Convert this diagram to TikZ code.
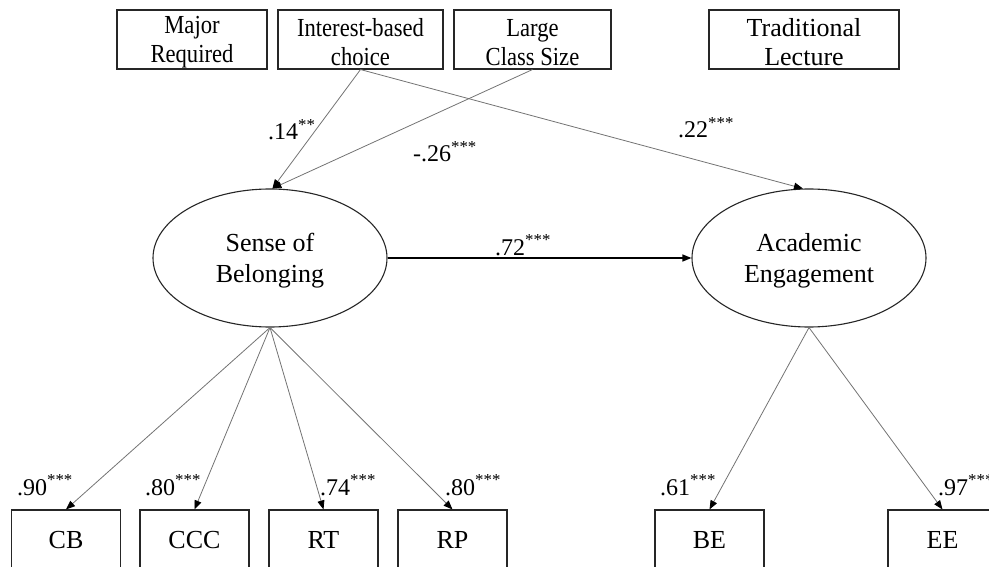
\documentclass[tikz,border=0pt]{standalone}
\usepackage{fontspec}
\usepackage{graphicx}
\setmainfont{Liberation Serif}
\usetikzlibrary{arrows.meta,shapes.geometric}
\newcommand{\cond}[1]{\scalebox{0.87}[1]{#1}}
\begin{document}
\begin{tikzpicture}[x=1pt,y=-1pt,
  tip/.style={-{Triangle[length=9pt,width=7pt,color=black,fill=black]}},
  intext/.style={align=center,inner sep=0pt,yshift=-3pt,font=\fontsize{26}{29}\selectfont},
  latext/.style={align=center,inner sep=0pt,yshift=-3pt,font=\fontsize{26}{31}\selectfont},
  box/.style={draw=black!85,line width=1.1pt,rectangle,inner sep=0pt,align=center,
    font=\fontsize{26}{29}\selectfont},
  topbox/.style={box,minimum height=59pt},
  botbox/.style={box,minimum height=60pt,minimum width=109pt},
  latent/.style={draw=black!85,line width=1.1pt,ellipse,inner sep=0pt,minimum width=234pt,minimum height=138pt},
  path/.style={draw=black!55,line width=0.8pt,tip},
  coef/.style={anchor=base west,inner sep=0pt,font=\fontsize{24}{26}\selectfont}]
\useasboundingbox (0,0) rectangle (989,567);
% top boxes
\node[topbox,minimum width=150pt,label={[intext]center:{\cond{Major}\\\cond{Required}}}] (MR) at (192,39.5) {};
\node[topbox,minimum width=165pt,label={[intext]center:{\cond{Interest-based}\\\cond{choice}}}] (IC) at (360.5,39.5) {};
\node[topbox,minimum width=157pt,label={[intext]center:{\cond{Large}\\\cond{Class Size}}}] (LC) at (532.5,39.5) {};
\node[topbox,minimum width=190pt,label={[intext]center:{Traditional\\Lecture}}] (TL) at (804,39.5) {};
% latent variables
\node[latent,label={[latext]center:{Sense of\\Belonging}}] (SB) at (270,258) {};
\node[latent,label={[latext]center:{Academic\\Engagement}}] (AE) at (809,258) {};
% bottom boxes
\node[botbox] (CB) at (66,540) {CB};
\node[botbox] (CCC) at (194.5,540) {CCC};
\node[botbox] (RT) at (323.5,540) {RT};
\node[botbox] (RP) at (452.5,540) {RP};
\node[botbox] (BE) at (709.5,540) {BE};
\node[botbox] (EE) at (942.5,540) {EE};
% paths
\draw[path] (IC.south) -- (SB.88);
\draw[path] (LC.south) -- (SB.88);
\draw[path] (IC.south) -- (AE.95);
\draw[draw=black,line width=1.4pt,tip] (SB.east) -- (AE.west);
\draw[path] (SB.south) -- (CB.north);
\draw[path] (SB.south) -- (CCC.north);
\draw[path] (SB.south) -- (RT.north);
\draw[path] (SB.south) -- (RP.north);
\draw[path] (AE.south) -- (BE.north);
\draw[path] (AE.south) -- (EE.north);
% coefficients
\node[coef] (c1) at (268,140) {.14\textsuperscript{**}};
\node[coef] (c2) at (413,162) {-.26\textsuperscript{***}};
\node[coef] (c3) at (678,138) {.22\textsuperscript{***}};
\node[coef] (c4) at (495,255) {.72\textsuperscript{***}};
\node[coef] (c5) at (17,495) {.90\textsuperscript{***}};
\node[coef] (c6) at (145,495) {.80\textsuperscript{***}};
\node[coef] (c7) at (320,495) {.74\textsuperscript{***}};
\node[coef] (c8) at (445,495) {.80\textsuperscript{***}};
\node[coef] (c9) at (660,495) {.61\textsuperscript{***}};
\node[coef] (c10) at (938,495) {.97\textsuperscript{***}};
\end{tikzpicture}
\end{document}
